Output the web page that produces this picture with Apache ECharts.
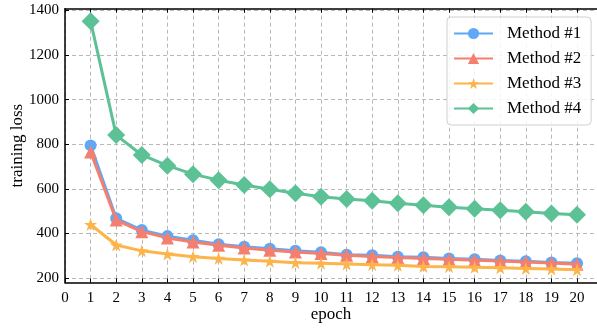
<!DOCTYPE html>
<html>
<head>
<meta charset="utf-8">
<script src="https://cdn.jsdelivr.net/npm/echarts@6/dist/echarts.min.js"></script>
<style>html,body{margin:0;padding:0;background:#fff;}#c{width:597px;height:329px;}</style>
</head>
<body>
<div id="c"></div>
<script>
const epochs = [1,2,3,4,5,6,7,8,9,10,11,12,13,14,15,16,17,18,19,20];
const method1 = [795,468,415,388,370,352,340,331,322,316,305,302,296,293,288,284,279,275,270,266];
const method2 = [765,460,408,380,362,347,335,325,317,310,302,297,292,288,284,280,276,272,268,262];
const method3 = [440,348,322,308,296,288,281,275,269,266,263,260,257,252,251,248,246,243,240,237];
const method4 = [1352,841,752,704,666,639,617,598,580,565,554,547,535,526,517,511,504,497,490,484];
const yTicks = [200,400,600,800,1000,1200,1400];
const seriesNames = ['Method #1','Method #2','Method #3','Method #4'];
const colors = ['#5fa8f6','#f57f6e','#fdb44b','#5cc296'];
const symbols = ['circle','triangle','path://M50,0 L61.8,35.3 L99,35.3 L69,57.1 L80.3,92.7 L50,70.9 L19.7,92.7 L31,57.1 L1,35.3 L38.2,35.3 Z','diamond'];
const symbolSizes = [12,13,13,18];

const font = 'Liberation Serif';
const chart = echarts.init(document.getElementById('c'), null, {renderer:'canvas'});
const allData = [method1, method2, method3, method4];
const series = allData.map((d, i) => ({
  name: seriesNames[i],
  type: 'line',
  data: epochs.map((e, j) => [e, d[j]]),
  symbol: symbols[i],
  symbolSize: symbolSizes[i],
  lineStyle: {width: 3, color: colors[i]},
  itemStyle: {color: colors[i]},
  z: 2 + i,
  animation: false
}));
const gridDash = {show: true, lineStyle: {type: [4,3], color: '#b8b8b8', width: 1}};
chart.setOption({
  animation: false,
  grid: {left: 65, right: 0, top: 8.7, bottom: 46.5, containLabel: false, outerBoundsMode: 'none'},
  legend: {
    data: seriesNames,
    left: 447, top: 17,
    orient: 'vertical',
    itemWidth: 39, itemHeight: 14, itemGap: 8,
    padding: [8, 10, 8, 6],
    backgroundColor: 'rgba(255,255,255,0.85)',
    borderColor: '#d0d0d0', borderWidth: 1, borderRadius: 4,
    textStyle: {fontFamily: font, fontSize: 17, color: '#000', padding: [0,0,0,9]}
  },
  xAxis: [{
    type: 'value', min: 0, max: 20.78, interval: 1,
    name: 'epoch', nameLocation: 'middle', nameGap: 24, nameMoveOverlap: false,
    nameTextStyle: {fontFamily: font, fontSize: 17, color: '#000'},
    axisLine: {show: true, lineStyle: {color: '#000', width: 1.5}},
    axisTick: {show: true, inside: true, length: 4, lineStyle: {color: '#000'}},
    axisLabel: {fontFamily: font, fontSize: 15, color: '#000', margin: 8,
      formatter: v => (Number.isInteger(v) ? String(v) : '')},
    splitLine: gridDash
  }, {
    type: 'value', min: 0, max: 20.78, interval: 1, position: 'top',
    axisLine: {show: true, onZero: false, lineStyle: {color: '#000', width: 1.5}},
    axisTick: {show: true, inside: true, length: 4, lineStyle: {color: '#000'}},
    axisLabel: {show: false}, splitLine: {show: false}
  }],
  yAxis: [{
    type: 'value', min: 180, max: 1408,
    name: 'training loss', nameLocation: 'middle', nameGap: 39, nameMoveOverlap: false,
    nameTextStyle: {fontFamily: font, fontSize: 17, color: '#000'},
    axisLine: {show: true, lineStyle: {color: '#000', width: 1.5}},
    axisTick: {show: true, inside: true, length: 4, customValues: yTicks, lineStyle: {color: '#000'}},
    axisLabel: {fontFamily: font, fontSize: 15, color: '#000', margin: 6, customValues: yTicks,
      formatter: v => String(v)},
    splitLine: gridDash
  }],
  series: series
});
</script>
</body>
</html>
